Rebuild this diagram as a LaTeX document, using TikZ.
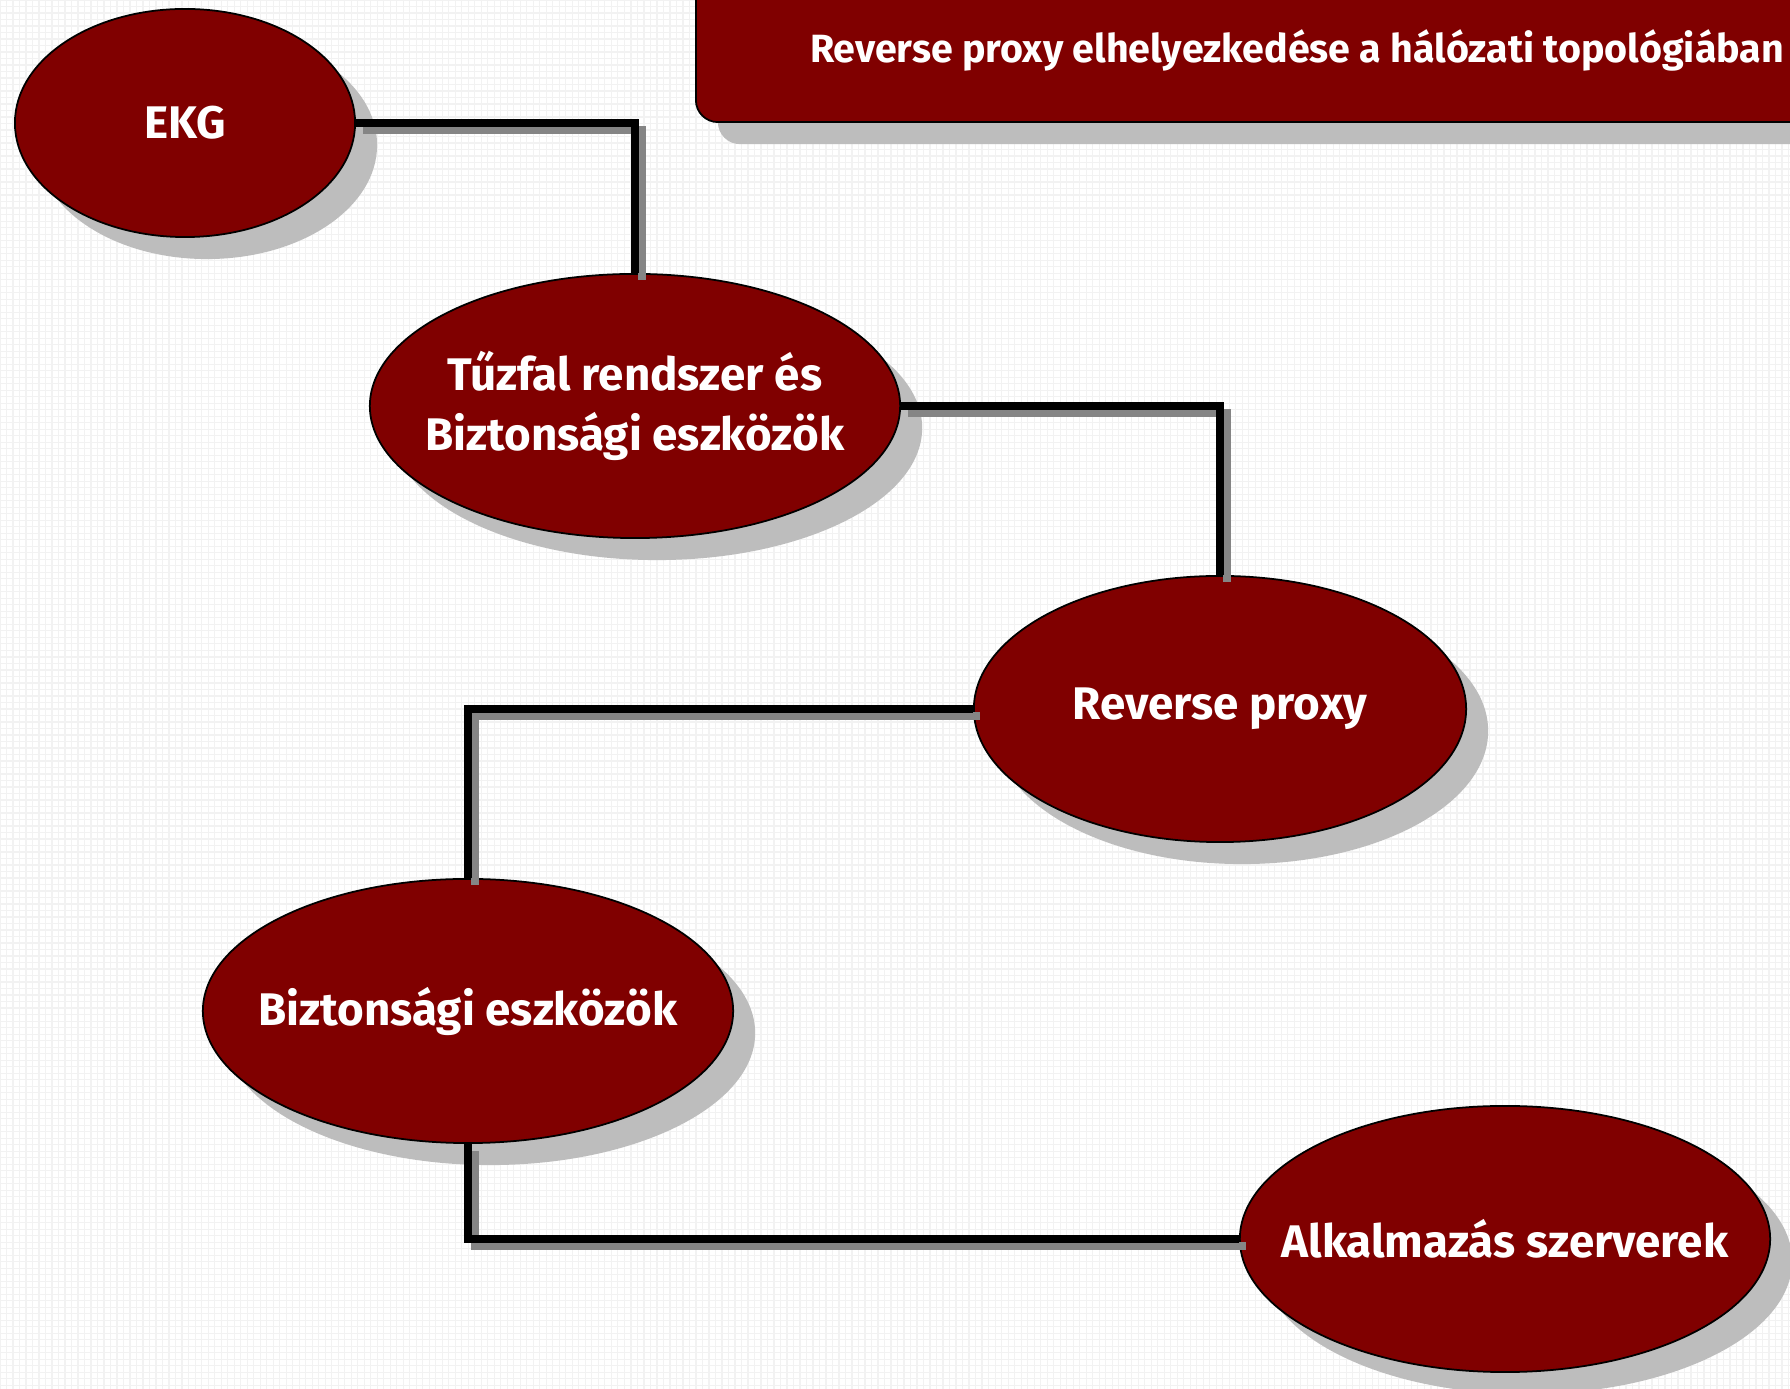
\documentclass[tikz,border=0pt]{standalone}
\usepackage{fontspec}
\setmainfont{Fira Sans}
\usetikzlibrary{shapes.geometric,shadows}
\definecolor{maroon}{HTML}{800000}
\definecolor{shadegray}{HTML}{BDBDBD}
\definecolor{linkgray}{HTML}{858585}
\begin{document}
\begin{tikzpicture}[x=0.01cm, y=-0.01cm,
  blob/.style={ellipse, draw=black, line width=0.5pt, fill=maroon, inner sep=0pt,
    drop shadow={shadow xshift=0.22cm, shadow yshift=-0.22cm, fill=shadegray, opacity=1}},
  blobtext/.style={text=white, font=\bfseries\fontsize{13}{17}\selectfont, align=center, inner sep=0pt},
  link/.style={line width=0.075cm, black},
  linkshade/.style={line width=0.075cm, linkgray, transform canvas={shift={(0.07cm,-0.07cm)}}}]
\useasboundingbox (0,0) rectangle (1790,1389);
\clip (0,0) rectangle (1790,1389);
\fill[white] (0,0) rectangle (1790,1389);
\draw[black!5, line width=0.35pt, step=0.065cm] (0,0) grid (1790,1389);
% title
\node[draw=black, line width=0.5pt, fill=maroon, rounded corners=0.22cm, minimum width=12cm, minimum height=2.5cm, anchor=south west,
  drop shadow={shadow xshift=0.22cm, shadow yshift=-0.22cm, fill=shadegray, opacity=1}] (titlebox) at (695,123) {};
\node[blobtext, font=\bfseries\fontsize{11.2}{14}\selectfont] (title) at (1297,50) {Reverse proxy elhelyezkedése a hálózati topológiában};
% ellipses
\node[blob, minimum width=3.4cm, minimum height=2.28cm] (ekg) at (185,123) {};
\node[blob, minimum width=5.3cm, minimum height=2.64cm] (fw) at (635,406) {};
\node[blob, minimum width=4.92cm, minimum height=2.66cm] (rp) at (1220,709) {};
\node[blob, minimum width=5.3cm, minimum height=2.64cm] (sec) at (468,1011) {};
\node[blob, minimum width=5.3cm, minimum height=2.66cm] (app) at (1505,1239) {};
\node[blobtext] (ekgtext) at (ekg) {EKG};
\node[blobtext] (fwtext) at (fw) {Tűzfal rendszer és\\Biztonsági eszközök};
\node[blobtext] (rptext) at (rp) {Reverse proxy};
\node[blobtext] (sectext) at (sec) {Biztonsági eszközök};
\node[blobtext] (apptext) at (app) {Alkalmazás szerverek};
% connectors
\draw[linkshade] (ekg.east) -| (fw.north);
\draw[linkshade] (fw.east) -| (rp.north);
\draw[linkshade] (rp.west) -| (sec.north);
\draw[linkshade] (sec.south) |- (app.west);
\draw[link] (ekg.east) -| (fw.north);
\draw[link] (fw.east) -| (rp.north);
\draw[link] (rp.west) -| (sec.north);
\draw[link] (sec.south) |- (app.west);
\end{tikzpicture}
\end{document}
